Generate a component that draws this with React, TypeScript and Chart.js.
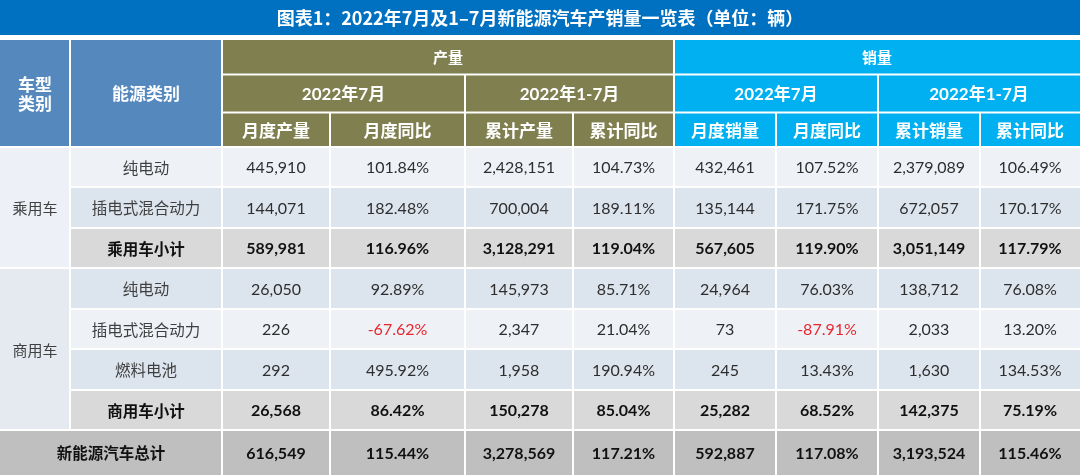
import React, { useEffect, useRef } from 'react';
import { Chart, registerables } from 'chart.js';

Chart.register(...registerables);

// ---------- data ----------
const title = '图表1：2022年7月及1–7月新能源汽车产销量一览表（单位：辆）';
const leftHeaders = ['车型\n类别', '能源类别'];
const groupHeaders = ['产量', '销量'];
const periodHeaders = ['2022年7月', '2022年1-7月', '2022年7月', '2022年1-7月'];
const columnHeaders = ['月度产量', '月度同比', '累计产量', '累计同比', '月度销量', '月度同比', '累计销量', '累计同比'];
const vehicleTypes = ['乘用车', '商用车'];
const vehicleTypeRows = [[0, 2], [3, 6]];
const energyTypes = ['纯电动', '插电式混合动力', '乘用车小计', '纯电动', '插电式混合动力', '燃料电池', '商用车小计', '新能源汽车总计'];

const prodMonth = [445910, 144071, 589981, 26050, 226, 292, 26568, 616549];
const prodMonthYoY = [101.84, 182.48, 116.96, 92.89, -67.62, 495.92, 86.42, 115.44];
const prodCum = [2428151, 700004, 3128291, 145973, 2347, 1958, 150278, 3278569];
const prodCumYoY = [104.73, 189.11, 119.04, 85.71, 21.04, 190.94, 85.04, 117.21];
const salesMonth = [432461, 135144, 567605, 24964, 73, 245, 25282, 592887];
const salesMonthYoY = [107.52, 171.75, 119.9, 76.03, -87.91, 13.43, 68.52, 117.08];
const salesCum = [2379089, 672057, 3051149, 138712, 2033, 1630, 142375, 3193524];
const salesCumYoY = [106.49, 170.17, 117.79, 76.08, 13.2, 134.53, 75.19, 115.46];

const valueColumns = [prodMonth, prodMonthYoY, prodCum, prodCumYoY, salesMonth, salesMonthYoY, salesCum, salesCumYoY];
const percentColumns = [false, true, false, true, false, true, false, true];

// ---------- layout & style (not data) ----------
const W = 1080;
const H = 475;
const colEdges = [0, 70, 222, 330, 465, 573, 674, 776, 878, 980, 1080];
const titleBottom = 35;
const headerEdges = [39, 74.5, 112.5, 147];
const rowEdges = [147, 187, 228, 268, 309, 349, 390, 430, 475];
const rowKinds = ['light', 'dark', 'sub', 'dark', 'light', 'dark', 'sub', 'total'];
const rowFill: Record<string, string> = { light: '#eef2f7', dark: '#dce4ee', sub: '#d9d9d9', total: '#bfbfbf' };
const groupFills = ['#edf1f7', '#e5eaf1'];
const C_TITLE = '#0070c0';
const C_LEFT = '#5589bd';
const C_PROD = '#7f7f50';
const C_SALES = '#00b0f0';
const CJK = "'Noto Sans CJK SC', 'Noto Sans', sans-serif";
const NUM = "Lato, 'Noto Sans CJK SC', sans-serif";

function fmt(v: number, pct: boolean) {
  return pct ? v.toFixed(2) + '%' : v.toLocaleString('en-US');
}

const tablePlugin = {
  id: 'tablePlugin',
  afterDraw(chart: any) {
    const ctx: CanvasRenderingContext2D = chart.ctx;
    const xs = chart.scales.x;
    const ys = chart.scales.y;
    const X = (v: number) => xs.getPixelForValue(v);
    const Y = (v: number) => ys.getPixelForValue(v);
    const cell = (x0: number, x1: number, y0: number, y1: number, fill: string) => {
      const l = X(x0) + (x0 === 0 ? 0 : 1);
      const r = X(x1) - (x1 === W ? 0 : 1);
      const t = Y(y0) + 1;
      const b = Y(y1) - (y1 === H ? 0 : 1);
      ctx.fillStyle = fill;
      ctx.fillRect(l, t, r - l, b - t);
    };
    const text = (s: string, x0: number, x1: number, y0: number, y1: number, font: string, color: string) => {
      ctx.font = font;
      ctx.fillStyle = color;
      ctx.textAlign = 'center';
      ctx.textBaseline = 'middle';
      const lines = s.split('\n');
      const cx = (X(x0) + X(x1)) / 2;
      const cy = (Y(y0) + Y(y1)) / 2;
      const lh = 19;
      lines.forEach((ln, i) => {
        ctx.fillText(ln, cx, cy + (i - (lines.length - 1) / 2) * lh + 1);
      });
    };

    ctx.save();
    ctx.fillStyle = '#ffffff';
    ctx.fillRect(X(0), Y(0), X(W) - X(0), Y(H) - Y(0));

    // title
    ctx.fillStyle = C_TITLE;
    ctx.fillRect(X(0), Y(0), X(W) - X(0), Y(titleBottom) - Y(0));
    text(title, 0, W, 0, titleBottom, `bold 18px ${CJK}`, '#ffffff');

    const hb = `bold 17px ${CJK}`;
    // left headers
    for (let i = 0; i < 2; i++) {
      cell(colEdges[i], colEdges[i + 1], headerEdges[0], headerEdges[3], C_LEFT);
      text(leftHeaders[i], colEdges[i], colEdges[i + 1], headerEdges[0], headerEdges[3], hb, '#ffffff');
    }
    // group headers
    for (let g = 0; g < 2; g++) {
      const fill = g === 0 ? C_PROD : C_SALES;
      const a = colEdges[2 + g * 4];
      const b = colEdges[6 + g * 4];
      cell(a, b, headerEdges[0], headerEdges[1], fill);
      text(groupHeaders[g], a, b, headerEdges[0], headerEdges[1], `bold 15px ${CJK}`, '#ffffff');
    }
    // period headers
    for (let p = 0; p < 4; p++) {
      const fill = p < 2 ? C_PROD : C_SALES;
      const a = colEdges[2 + p * 2];
      const b = colEdges[4 + p * 2];
      cell(a, b, headerEdges[1], headerEdges[2], fill);
      text(periodHeaders[p], a, b, headerEdges[1], headerEdges[2], `bold 17px ${NUM}`, '#ffffff');
    }
    // column headers
    for (let c = 0; c < 8; c++) {
      const fill = c < 4 ? C_PROD : C_SALES;
      const a = colEdges[2 + c];
      const b = colEdges[3 + c];
      cell(a, b, headerEdges[2], headerEdges[3], fill);
      text(columnHeaders[c], a, b, headerEdges[2], headerEdges[3], hb, '#ffffff');
    }

    // vehicle type merged cells
    vehicleTypes.forEach((vt, i) => {
      const [r0, r1] = vehicleTypeRows[i];
      cell(colEdges[0], colEdges[1], rowEdges[r0], rowEdges[r1 + 1], groupFills[i]);
      text(vt, colEdges[0], colEdges[1], rowEdges[r0], rowEdges[r1 + 1], `15px ${CJK}`, '#404040');
    });

    // body rows
    energyTypes.forEach((et, r) => {
      const kind = rowKinds[r];
      const fill = rowFill[kind];
      const bold = kind === 'sub' || kind === 'total';
      const y0 = rowEdges[r];
      const y1 = rowEdges[r + 1];
      const labelStart = kind === 'total' ? colEdges[0] : colEdges[1];
      cell(labelStart, colEdges[2], y0, y1, fill);
      text(et, labelStart, colEdges[2], y0, y1, bold ? `bold 15.5px ${CJK}` : `15.5px ${CJK}`, bold ? '#111111' : '#404040');
      valueColumns.forEach((col, c) => {
        const a = colEdges[2 + c];
        const b = colEdges[3 + c];
        cell(a, b, y0, y1, fill);
        const v = col[r];
        const color = v < 0 ? '#e8262d' : bold ? '#111111' : '#2e2e2e';
        text(fmt(v, percentColumns[c]), a, b, y0, y1, bold ? `bold 16px ${NUM}` : `16px ${NUM}`, color);
      });
    });
    ctx.restore();
  },
};

export default function App() {
  const ref = useRef<HTMLCanvasElement | null>(null);
  useEffect(() => {
    document.body.style.margin = '0';
    const canvas = ref.current;
    if (!canvas) return;
    const chart = new Chart(canvas, {
      type: 'scatter',
      data: { datasets: [] },
      options: {
        responsive: false,
        animation: false,
        events: [],
        layout: { padding: 0 },
        plugins: { legend: { display: false }, tooltip: { enabled: false }, title: { display: false } },
        scales: {
          x: { type: 'linear', min: 0, max: W, display: false },
          y: { type: 'linear', min: 0, max: H, reverse: true, display: false },
        },
      },
      plugins: [tablePlugin],
    } as any);
    return () => chart.destroy();
  }, []);
  return (
    <div style={{ width: W, height: H }}>
      <canvas ref={ref} width={W} height={H} style={{ display: 'block', width: W, height: H }} />
    </div>
  );
}
